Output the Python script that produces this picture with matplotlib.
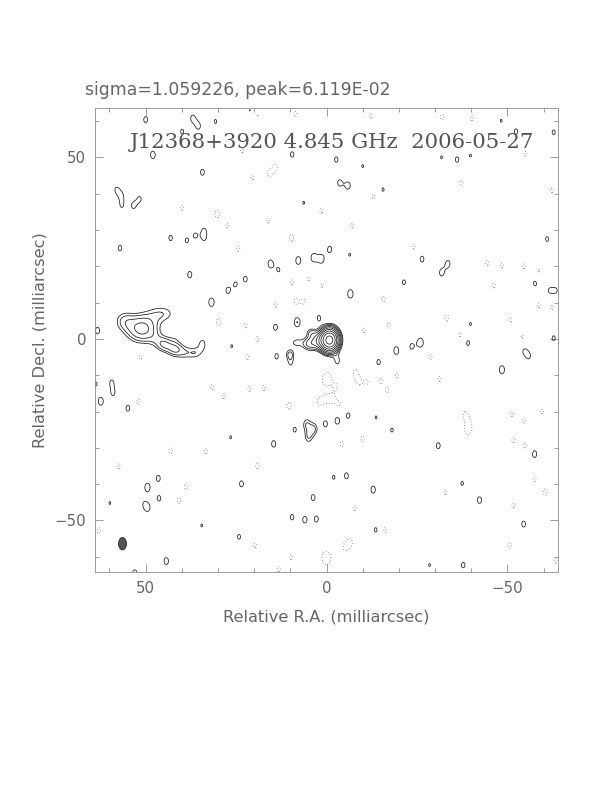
import numpy as np
import matplotlib
matplotlib.use("Agg")
import matplotlib.pyplot as plt
from matplotlib.patches import Ellipse

# ---------------- data (mJy/beam, milliarcsec) ----------------
sigma = 1.059226
peak = 6.119e-02
title_top = "sigma=1.059226, peak=6.119E-02"
title_in = "J12368+3920 4.845 GHz  2006-05-27"
xlabel = "Relative R.A. (milliarcsec)"
ylabel = "Relative Decl. (milliarcsec)"
major_ticks = [-50, 0, 50]
minor_ticks = list(range(-60, 61, 10))

# contour levels: 3 sigma * sqrt(2)^n
n_levels = 9
level_factor = np.sqrt(2.0)

# extended source components: x, y, amplitude, sigma_x, sigma_y
comp_x = [-0.9, 2.0, 4.9, 8.3, 4.3, 10.1,
          51.0, 56.0, 45.0, 42.0, 47.5, 45.5, 39.0, 36.0, 41.5]
comp_y = [-0.3, -0.5, -1.5, -1.0, 1.8, -4.2,
          2.8, 5.0, -1.5, -2.8, 0.0, 7.0, -3.8, -3.8, 1.0]
comp_amp = [58.0, 10.0, 5.2, 3.6, 3.6, 4.6,
            10.4, 4.0, 5.9, 5.9, 1.5, 4.1, 3.6, 3.3, 2.0]
comp_sx = [1.5, 1.8, 1.3, 1.5, 1.0, 0.9,
           3.0, 2.0, 1.6, 1.6, 1.5, 3.0, 1.8, 1.4, 1.5]
comp_sy = [1.9, 1.6, 1.3, 1.2, 1.0, 1.1,
           2.6, 2.0, 1.5, 1.5, 1.5, 1.8, 1.5, 1.3, 1.5]

# compact positive features (solid contours)
pos_x = [50.0, 37.0, 35.4, 39.9, 30.7, 21.0, 48.0, 9.5, 34.3, 58.1, 56.6, 56.6,
         53.4, 51.6, 6.3, 33.8, 33.8, 36.3, 38.7, 43.1, 57.1, -0.9, 15.5, 13.2, 7.8,
         3.6, 1.4, 37.8, 22.4, 25.1, 27.3, 31.8, 14.1, 8.1, 2.1, 63.3,
         -2.7, -10.0, -3.6, -6.0, -15.6, -31.8, -36.1, -39.8, -48.3, -52.4, -62.8,
         -61.0, -6.4, -26.4, -33.6, -31.8, -21.4, -57.7, -61.6, -63.5, -6.6, -26.0, -39.1,
         -39.8, -62.8, 34.3, 26.2, 13.8, 9.9, 59.4, 59.0, 62.4, 63.8, 54.9,
         5.5, 3.5, 5.0, 0.3, 8.8, 14.6, 26.5, 46.5, 49.5, 46.3, 49.3, 50.5, 59.9, 23.5,
         3.7, 9.5, 6.0, 2.8, 34.5, 24.2, 44.3, 53.0,
         -3.0, -14.4, -19.3, -23.5, -54.6, -56.0, -48.5, -3.0, -6.0, -13.7, -18.1, -30.9,
         -57.5, -2.0, -5.5, -12.9, -37.5, -42.3, -54.5, -13.7, -28.5, -37.8]
pos_y = [60.4, 60.8, 58.6, 57.1, 59.9, 62.9, 50.7, 50.8, 45.9, 41.1, 39.5, 36.6,
         36.7, 38.6, 37.5, 30.0, 27.6, 28.5, 27.1, 27.8, 25.0, 24.7, 20.7, 19.0, 21.6,
         22.4, 22.0, 17.7, 16.5, 15.1, 13.3, 10.1, 3.2, 4.6, 5.8, 2.3,
         49.4, 47.6, 43.0, 42.2, 41.1, 50.0, 49.4, 50.5, 60.1, 57.1, 56.9,
         27.5, 23.2, 22.0, 20.7, 18.2, 15.6, 15.4, 13.3, 13.3, 12.4, -1.0, -1.1,
         4.1, 0.2, -1.4, -2.0, -4.8, -6.6, -11.9, -15.0, -17.2, -12.4, -19.1,
         -23.5, -24.8, -27.0, -23.4, -25.0, -28.9, -27.1, -38.4, -40.9, -43.9, -46.6, -45.5, -45.2, -39.9,
         -43.7, -49.1, -49.8, -49.6, -51.4, -54.5, -61.2, -64.5,
         -6.1, -6.4, -3.2, -2.1, -3.2, -4.8, -8.5, -22.5, -21.1, -21.6, -25.1, -29.4,
         -31.7, -38.1, -37.7, -41.5, -39.8, -44.4, -51.0, -52.6, -62.3, -62.3]
pos_amp = [3.7, 3.6, 3.6, 3.5, 3.4, 3.5, 4.0, 3.6, 3.7, 3.2, 2.9, 3.0,
           3.5, 3.3, 3.3, 2.85, 2.85, 3.3, 3.4, 3.6, 3.6, 3.7, 4.0, 3.3, 4.1,
           4.0, 4.0, 3.8, 3.6, 3.3, 3.6, 4.3, 3.7, 4.55, 3.5, 3.8,
           3.6, 3.3, 3.6, 3.8, 3.4, 3.3, 3.6, 3.3, 3.3, 3.6, 3.5,
           3.5, 3.3, 3.7, 3.7, 3.7, 3.5, 3.7, 3.1, 3.1, 4.3, 4.4, 3.6,
           3.3, 3.5, 3.9, 3.3, 3.6, 3.3, 3.3, 3.3, 4.1, 3.4, 3.7,
           4.2, 4.6, 4.2, 3.7, 3.5, 3.8, 3.3, 3.7, 4.2, 3.6, 3.2, 2.5, 3.3, 3.7,
           3.7, 3.6, 3.8, 3.7, 3.3, 3.5, 3.9, 3.8,
           3.6, 3.6, 4.1, 3.5, 3.1, 3.1, 4.2, 3.9, 3.6, 3.3, 3.4, 3.7,
           3.9, 3.4, 3.7, 3.9, 3.4, 3.8, 3.7, 3.6, 3.3, 3.6]

# compact negative features (dotted contours)
neg_x = [19.1, 8.6, 23.3, 20.5, 15.9, 14.1, 39.9, 30.2, 27.4, 16.1, 9.7, 1.4, 24.4,
         9.5, 4.9, 1.2, 8.6, 6.3, 14.1, 29.8, 22.4, 19.1,
         -12.2, -32.0, -40.2, -55.0, -37.3, -13.1, -62.3, -7.1, -24.1, -44.4, -48.5,
         -54.5, -58.7, -46.2, -58.7, -62.3, -15.8, -33.3, -50.8, -17.2, -10.3, -37.0, -54.1,
         51.4, 21.9, 31.6, 28.4, 21.3, 17.3, 52.0, 10.4, 2.1, 0.3, 0.3, 43.1, 33.4,
         19.1, 57.5, 38.8, 40.8, 62.9, 9.9, -0.2, 13.2, 19.8,
         -0.5, -2.5, -1.5, -3.5, -8.0, -8.9, -11.2, -14.9, -16.8, -19.5, -28.7, -31.2,
         -38.4, -39.3, -39.1, -51.3, -54.5, -59.6, -51.7, -55.0, -10.0, -4.3, -57.5,
         -60.5, -32.9, -51.7, -7.8, -16.1, -5.2, -6.6, -50.6, 0.3, -63.3]
neg_y = [61.7, 62.0, 51.9, 44.5, 45.5, 47.3, 36.1, 34.4, 31.2, 32.6, 27.8, 35.3, 24.8,
         15.6, 16.5, 14.7, 10.3, 10.3, 9.4, 4.6, 3.7, 0.0,
         61.5, 61.1, 60.8, 51.0, 43.0, 39.3, 40.9, 31.2, 25.4, 20.9, 20.2,
         20.0, 18.6, 14.7, 9.2, 8.7, 11.0, 5.7, 5.3, 3.7, 2.3, 1.1, 0.5,
         -5.0, -5.0, -13.3, -15.8, -13.8, -13.5, -17.3, -18.4, -17.4, -16.5, -11.5, -30.8, -31.0,
         -34.9, -35.1, -40.7, -44.5, -52.8, -60.1, -60.6, -63.4, -56.9,
         -10.5, -13.0, -16.5, -18.0, -9.2, -11.9, -11.9, -11.5, -14.2, -10.1, -5.0, -11.0,
         -20.7, -23.4, -25.5, -20.7, -22.5, -20.0, -28.0, -29.4, -27.5, -28.9, -38.6,
         -42.2, -42.2, -45.9, -46.6, -52.6, -57.4, -56.0, -56.9, -60.1, -61.1]
neg_amp = [-3.5, -3.5, -3.5, -3.5, -3.5, -3.5, -3.5, -4.1, -3.5, -3.5, -3.9, -3.5, -3.5,
           -3.5, -3.4, -3.4, -3.4, -3.4, -3.5, -4.0, -3.5, -3.5,
           -3.5, -3.6, -3.5, -3.5, -3.6, -3.5, -3.5, -3.5, -3.5, -3.5, -3.5,
           -3.5, -3.5, -3.5, -3.5, -3.5, -3.6, -3.7, -3.5, -3.6, -3.5, -3.5, -3.5,
           -3.6, -3.5, -3.5, -3.5, -3.5, -3.5, -3.6, -3.9, -3.4, -3.4, -3.5, -3.6, -3.6,
           -3.7, -3.5, -3.6, -3.6, -3.6, -3.5, -3.6, -3.5, -3.5,
           -3.4, -3.4, -3.4, -3.3, -3.5, -3.3, -3.3, -3.4, -3.4, -3.5, -3.6, -3.5,
           -3.5, -3.4, -3.4, -3.5, -3.6, -3.5, -3.6, -3.6, -3.6, -3.6, -3.5,
           -3.8, -3.5, -3.5, -3.5, -3.6, -3.5, -3.4, -3.6, -3.6, -3.5]

# restoring beam: centre, FWHM minor/major (mas)
beam_xy = (56.4, -56.4)
beam_w, beam_h = 2.2, 3.4

# ---------------- model image ----------------
grid = np.linspace(-68, 68, 681)
X, Y = np.meshgrid(grid, grid)
img = np.zeros_like(X)
for x0, y0, a, sx, sy in zip(comp_x, comp_y, comp_amp, comp_sx, comp_sy):
    img += a * np.exp(-0.5 * (((X - x0) / sx) ** 2 + ((Y - y0) / sy) ** 2))
bsx, bsy = 0.95, 1.5
for x0, y0, a in list(zip(pos_x, pos_y, pos_amp)) + list(zip(neg_x, neg_y, neg_amp)):
    img += a * np.exp(-0.5 * (((X - x0) / bsx) ** 2 + ((Y - y0) / bsy) ** 2))

base = 3 * sigma
pos_levels = [base * level_factor ** n for n in range(n_levels)]
neg_levels = [-base]

# ---------------- figure ----------------
fig = plt.figure(figsize=(8.5, 11), dpi=72)
ax = fig.add_axes([95 / 612, (792 - 572) / 792, 463 / 612, 464 / 792])

ax.contour(X, Y, img, levels=pos_levels, colors="#222222", linewidths=0.8,
           linestyles="solid")
ax.contour(X, Y, img, levels=neg_levels, colors="#666666", linewidths=0.8,
           linestyles=[(0, (1, 2.5))])

ax.add_patch(Ellipse(beam_xy, beam_w, beam_h, facecolor="#555555",
                     edgecolor="#222222", linewidth=0.8))

ax.set_xlim(64, -64)
ax.set_ylim(-64.2, 63.6)
ax.set_aspect("auto")

tc = "#666666"
ax.set_xticks(major_ticks)
ax.set_yticks(major_ticks)
ax.set_xticks(minor_ticks, minor=True)
ax.set_yticks(minor_ticks, minor=True)
ax.set_xticklabels(["\u221250" if t < 0 else str(t) for t in major_ticks])
ax.set_yticklabels(["\u221250" if t < 0 else str(t) for t in major_ticks])
ax.tick_params(which="both", direction="in", top=True, right=True,
               color="#888888", width=0.8, labelcolor=tc, labelsize=15)
ax.tick_params(which="major", length=8, pad=9)
ax.tick_params(which="minor", length=4)
for s in ax.spines.values():
    s.set_color("#888888")
    s.set_linewidth(0.8)

ax.set_xlabel(xlabel, fontsize=16.3, color=tc)
ax.set_ylabel(ylabel, fontsize=16.3, color=tc)
ax.xaxis.set_label_coords(0.5, (572 - 617) / 464)
ax.xaxis.label.set_verticalalignment("center")
ax.yaxis.set_label_coords((40 - 95) / 463, 0.5)
ax.yaxis.label.set_verticalalignment("center")

fig.text(85 / 612, 1 - 90 / 792, title_top, fontsize=17.2, color=tc,
         ha="left", va="center")
ax.text((331.5 - 95) / 463, (572 - 142.5) / 464, title_in, transform=ax.transAxes,
        fontsize=21.3, family="DejaVu Serif", color="#555555",
        ha="center", va="center")

fig.savefig("out.png", dpi=72)
